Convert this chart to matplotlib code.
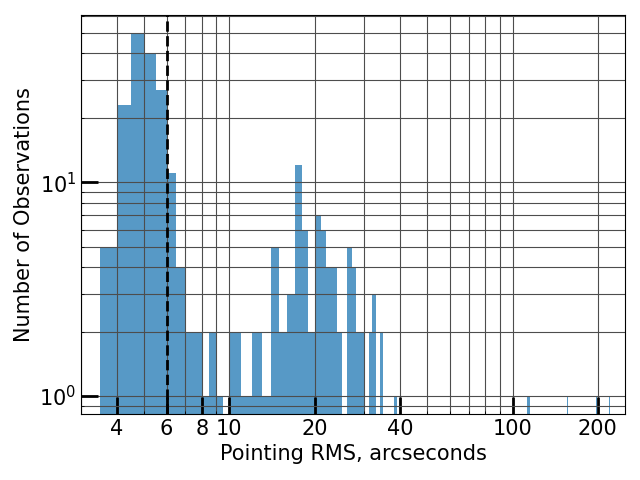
import numpy as np
import matplotlib
matplotlib.use("Agg")
import matplotlib.pyplot as plt
from matplotlib.ticker import ScalarFormatter, NullFormatter

# bordas dos bins (arcsec) e contagens
bin_edges = [3.5, 4.0, 4.5, 5.0, 5.5, 6.0, 6.5, 7.0, 7.5, 8.0, 8.5, 9.0, 9.5,
             10, 11, 12, 13, 14, 15, 16, 17, 18, 19, 20, 21, 22, 23, 24, 25,
             26, 27, 28, 29, 30, 31, 32, 33, 34, 35, 38, 39,
             112.5, 115, 156, 157, 197, 198, 219, 220]
counts = [5, 23, 50, 40, 27, 11, 4, 2, 2, 1, 2, 1, 0,
          2, 1, 2, 1, 5, 2, 3, 12, 6, 2, 7, 6, 4, 4, 2,
          0, 5, 4, 2, 2, 0, 2, 3, 0, 2, 0, 1,
          0, 1, 0, 1, 0, 1, 0, 1]

xticks = [4, 6, 8, 10, 20, 40, 100, 200]
cut_rms = 6


def main():
    fig, ax = plt.subplots(figsize=(6.4, 4.8), dpi=100)

    ax.hist(bin_edges[:-1], bins=bin_edges, weights=counts,
            alpha=0.75, color="#1f77b4")
    ax.set_xscale("log")
    ax.set_yscale("log")

    ax.axvline(cut_rms, color="k", linestyle="--", linewidth=2)

    ax.set_xlim(3.0, 250)
    ax.set_ylim(0.824, 60.6)

    ax.set_xticks(xticks)
    ax.xaxis.set_major_formatter(ScalarFormatter())
    ax.xaxis.set_minor_formatter(NullFormatter())

    ax.grid(which="both", color="0.3", linewidth=0.8)
    ax.tick_params(which="major", direction="in", length=12, width=2,
                   labelsize=15)
    ax.tick_params(which="minor", direction="in")

    ax.set_xlabel("Pointing RMS, arcseconds", fontsize=15)
    ax.set_ylabel("Number of Observations", fontsize=15)

    fig.subplots_adjust(left=0.127, right=0.977, top=0.969, bottom=0.1375)
    fig.savefig("out.png")


if __name__ == "__main__":
    main()
